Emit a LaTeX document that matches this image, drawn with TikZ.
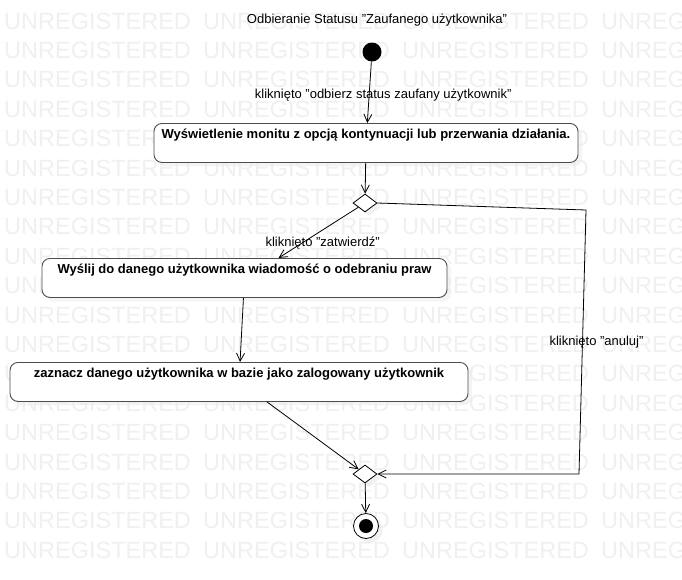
\documentclass[tikz,border=0pt]{standalone}
\usepackage{fontspec}
\defaultfontfeatures{}
\setmainfont{Liberation Sans}[Ligatures=ResetAll]
\usetikzlibrary{shapes.geometric,arrows.meta,shadows}
\begin{document}
\begin{tikzpicture}[x=1pt,y=-1pt,
        every node/.style={font=\fontsize{13}{15}\selectfont},
        wmtext/.style={text=black!6, font=\fontsize{23.5}{24}\selectfont, anchor=base west, inner sep=0pt},
        actbox/.style={draw=black!70, line width=0.9pt, rounded corners=8pt, fill=white, anchor=north,
          font=\fontsize{13}{15}\selectfont\bfseries, inner ysep=3pt, text height=12pt, text depth=21pt,
          drop shadow={shadow xshift=4pt, shadow yshift=-4pt, fill=black!8}},
        decision/.style={diamond, draw, line width=0.8pt, fill=white, inner sep=0pt,
          minimum width=24pt, minimum height=18pt,
          drop shadow={shadow xshift=4pt, shadow yshift=-4pt, fill=black!10}},
        startnode/.style={circle, fill=black, inner sep=0pt, minimum size=19pt},
        endnode/.style={circle, draw, line width=0.8pt, fill=white, inner sep=0pt, minimum size=25pt,
          path picture={\fill[black] (path picture bounding box.center) circle (7pt);},
          drop shadow={shadow xshift=4pt, shadow yshift=-4pt, fill=black!10}},
        lbl/.style={inner sep=1pt},
        flow/.style={line width=0.8pt, -{Straight Barb[length=8pt,width=8pt]}}]
        \fill[white] (0,0) rectangle (682,579);
        \useasboundingbox (0,0) rectangle (682,579);
        \foreach \r in {0,...,18}
          \foreach \c in {0,...,3}
            \node[wmtext] (w-\r-\c) at (4+199*\c, 29+29.4*\r) {UNREGISTERED};
        \node (ttl) at (377,20) {Odbieranie Statusu "Zaufanego użytkownika"};
        \node[startnode] (start) at (372,52) {};
        \node[actbox, minimum width=424pt] (show) at (366,123) {Wyświetlenie monitu z opcją kontynuacji lub przerwania działania.};
        \node[decision] (dec1) at (365,203) {};
        \node[actbox, minimum width=405pt] (send) at (244.5,258) {Wyślij do danego użytkownika wiadomość o odebraniu praw};
        \node[actbox, minimum width=458pt] (flag) at (239,362) {zaznacz danego użytkownika w bazie jako zalogowany użytkownik};
        \node[decision] (dec2) at (365,474) {};
        \node[endnode] (stop) at (366,526) {};
        \coordinate (c1) at (586,210);
        \coordinate (c2) at (579,474);
        \draw[flow] (start) -- node[lbl, pos=0.55, xshift=14pt] (l1) {kliknięto "odbierz status zaufany użytkownik"} (show);
        \draw[flow] (show) -- (dec1);
        \draw[flow] (dec1) -- node[lbl, pos=0.71, xshift=21pt] (l2) {kliknięto "zatwierdź"} ([xshift=34pt]send.north);
        \draw[flow] (dec1.east) -- (c1) -- node[lbl, pos=0.5, xshift=14pt] (l3) {kliknięto "anuluj"} (c2) -- (dec2.east);
        \draw[flow] (send) -- (flag);
        \draw[flow] ([xshift=28pt]flag.south) -- (dec2);
        \draw[flow] (dec2) -- (stop);
      \end{tikzpicture}
\end{document}
